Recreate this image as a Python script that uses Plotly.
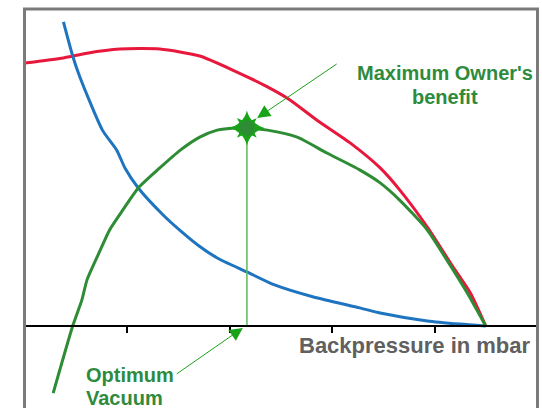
import plotly.graph_objects as go

# Backpressure (arbitrary axis units, 5 unlabeled tick intervals)
red_x = [0.0, 0.38, 0.61, 0.93, 1.32, 1.71, 2.03, 2.37, 2.59, 2.85, 3.18, 3.47, 3.66, 3.93, 4.18, 4.35, 4.50]
red_y = [82.7, 84.3, 85.8, 87.1, 87.1, 84.9, 80.5, 75.2, 71.1, 64.8, 57.5, 49.7, 42.8, 31.1, 18.6, 10.4, 0.0]

blue_x = [0.38, 0.47, 0.54, 0.76, 0.90, 0.98, 1.11, 1.35, 1.52, 1.71, 1.88, 2.17, 2.44, 2.82, 3.27, 3.47, 3.93, 4.25, 4.50]
blue_y = [95.6, 84.9, 78.3, 61.6, 55.3, 49.7, 43.4, 35.0, 30.0, 25.0, 21.4, 17.0, 12.9, 9.1, 5.7, 4.1, 1.6, 0.6, 0.0]

green_x = [0.28, 0.47, 0.56, 0.61, 0.74, 0.83, 0.96, 1.11, 1.32, 1.52, 1.71, 1.88, 2.05, 2.17, 2.37, 2.66, 2.95, 3.27, 3.47, 3.66, 3.93, 4.12, 4.32, 4.50]
green_y = [-21.1, 0.0, 8.2, 14.5, 23.9, 30.2, 36.5, 43.4, 49.7, 55.3, 59.4, 61.6, 62.3, 62.3, 61.6, 59.4, 54.4, 49.1, 45.0, 39.6, 30.2, 20.8, 10.4, 0.0]

optimum_x = 2.17
optimum_y = 62.3

tick_vals = [1, 2, 3, 4, 5]

RED = "#e8173c"
BLUE = "#1f74bf"
GREEN = "#2d8c34"
ARROW_GREEN = "#19a319"
TEXT_GREEN = "#2e8b3e"

fig = go.Figure()

fig.add_trace(go.Scatter(x=red_x, y=red_y, mode="lines",
                         line=dict(color=RED, width=3, shape="spline", smoothing=0.6),
                         hoverinfo="skip"))
fig.add_trace(go.Scatter(x=blue_x, y=blue_y, mode="lines",
                         line=dict(color=BLUE, width=3, shape="spline", smoothing=0.6),
                         hoverinfo="skip"))
fig.add_trace(go.Scatter(x=green_x, y=green_y, mode="lines",
                         line=dict(color=GREEN, width=3, shape="spline", smoothing=0.6),
                         hoverinfo="skip"))

# drop line from the optimum to the backpressure axis
fig.add_trace(go.Scatter(x=[optimum_x, optimum_x], y=[0, optimum_y], mode="lines",
                         line=dict(color="#5cb85c", width=1.5), hoverinfo="skip"))

# star marker at the maximum benefit
fig.add_trace(go.Scatter(x=[optimum_x], y=[optimum_y], mode="markers",
                         marker=dict(symbol="star-diamond", size=25, color=ARROW_GREEN,
                                     line=dict(width=0)), hoverinfo="skip"))
fig.add_trace(go.Scatter(x=[optimum_x], y=[optimum_y], mode="markers",
                         marker=dict(symbol="star-square", size=18, color=ARROW_GREEN,
                                     line=dict(width=0)), hoverinfo="skip"))
fig.add_trace(go.Scatter(x=[optimum_x], y=[optimum_y], mode="markers",
                         marker=dict(symbol="circle", size=15, color=GREEN,
                                     line=dict(width=0)), hoverinfo="skip"))

font_b = "Liberation Sans, Arial, sans-serif"

annotations = [
    # arrows
    dict(x=2.27, y=65.4, ax=3.06, ay=82.7, axref="x", ayref="y", xref="x", yref="y",
         text="", showarrow=True, arrowhead=2, arrowsize=2.6, arrowwidth=1,
         arrowcolor=ARROW_GREEN),
    dict(x=2.13, y=-0.6, ax=1.47, ay=-15.4, axref="x", ayref="y", xref="x", yref="y",
         text="", showarrow=True, arrowhead=2, arrowsize=2.6, arrowwidth=1,
         arrowcolor=ARROW_GREEN),
    # labels
    dict(x=4.107, y=79.6, xref="x", yref="y", text="<b>Maximum Owner's</b>",
         showarrow=False, xanchor="center", yanchor="middle",
         font=dict(family=font_b, size=20, color=TEXT_GREEN)),
    dict(x=4.107, y=72.0, xref="x", yref="y", text="<b>benefit</b>",
         showarrow=False, xanchor="center", yanchor="middle",
         font=dict(family=font_b, size=20, color=TEXT_GREEN)),
    dict(x=0.58, y=-15.4, xref="x", yref="y", text="<b>Optimum</b>",
         showarrow=False, xanchor="left", yanchor="middle",
         font=dict(family=font_b, size=20, color=TEXT_GREEN)),
    dict(x=0.58, y=-22.6, xref="x", yref="y", text="<b>Vacuum</b>",
         showarrow=False, xanchor="left", yanchor="middle",
         font=dict(family=font_b, size=20, color=TEXT_GREEN)),
    dict(x=4.965, y=-6.0, xref="x", yref="y", text="<b>Backpressure in mbar</b>",
         showarrow=False, xanchor="right", yanchor="middle",
         font=dict(family=font_b, size=22, color="#606060")),
]

W, H = 542, 408
fig.update_layout(
    width=W, height=H,
    margin=dict(l=0, r=0, t=0, b=0),
    paper_bgcolor="white", plot_bgcolor="white",
    showlegend=False,
    annotations=annotations,
    xaxis=dict(domain=[24 / W, 538 / W], range=[-0.0049, 5.0098],
               anchor="free", position=(H - 326) / H,
               showline=True, linecolor="black", linewidth=1.5,
               ticks="outside", ticklen=6, tickwidth=1.5, tickcolor="black",
               tickvals=tick_vals, showticklabels=False,
               showgrid=False, zeroline=False),
    yaxis=dict(domain=[0, (H - 8) / H], range=[-25.79, 100],
               showline=False, showticklabels=False, ticks="",
               showgrid=False, zeroline=False),
    shapes=[
        dict(type="path", xref="paper", yref="paper",
             path=f"M {24.5 / W},-0.1 L {24.5 / W},{(H - 9) / H} L {537.5 / W},{(H - 9) / H} L {537.5 / W},-0.1",
             line=dict(color="#7a7a7a", width=3)),
    ],
)

fig.write_html("out.html")
